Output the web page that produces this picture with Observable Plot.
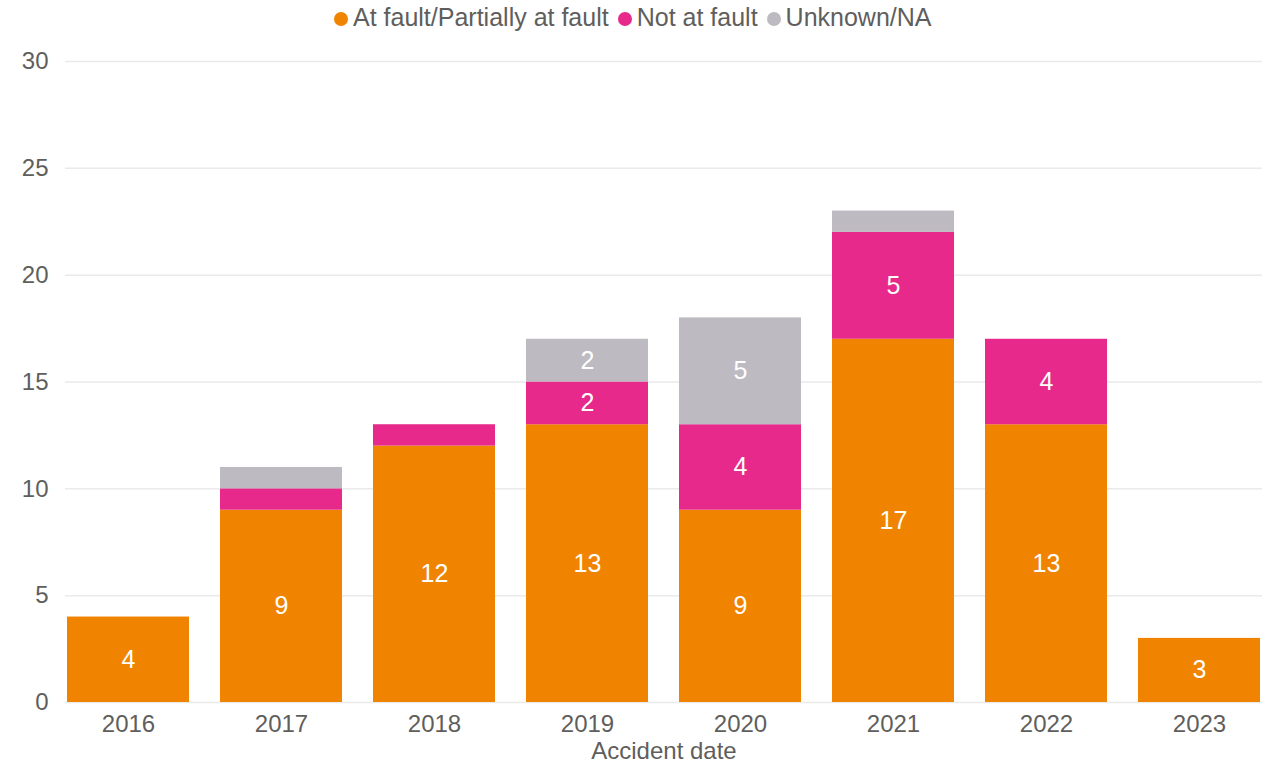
<!DOCTYPE html>
<html>
<head>
<meta charset="utf-8">
<script src="https://cdn.jsdelivr.net/npm/d3@7"></script>
<script src="https://cdn.jsdelivr.net/npm/@observablehq/plot@0.6"></script>
<style>
  body { margin: 0; background: #fff; font-family: "Liberation Sans", Arial, sans-serif; }
  #legend { position: relative; height: 34px; width: 1263px; font-size: 25px; color: #605E5C; }
  #legend .inner { position: absolute; left: 334px; top: 0; height: 34px; display: flex; align-items: center; white-space: nowrap; }
  #legend .item { display: flex; align-items: center; margin-right: 9px; }
  #legend .dot { width: 14px; height: 14px; border-radius: 50%; margin-right: 5px; margin-top: 3px; }
</style>
</head>
<body>
<div id="legend"><div class="inner"></div></div>
<div id="chart"></div>
<script>
const years = ["2016", "2017", "2018", "2019", "2020", "2021", "2022", "2023"];
const atFault = [4, 9, 12, 13, 9, 17, 13, 3];
const notAtFault = [0, 1, 1, 2, 4, 5, 4, 0];
const unknownNA = [0, 1, 0, 2, 5, 1, 0, 0];
const seriesNames = ["At fault/Partially at fault", "Not at fault", "Unknown/NA"];
const seriesColors = ["#F08400", "#E6298A", "#BEBAC1"];
const yTicks = [0, 5, 10, 15, 20, 25, 30];

const seriesValues = [atFault, notAtFault, unknownNA];
const data = years.flatMap((year, i) =>
  seriesNames.map((status, s) => ({ year, status, value: seriesValues[s][i] }))
);

// Legend
const inner = document.querySelector("#legend .inner");
seriesNames.forEach((name, i) => {
  const item = document.createElement("div");
  item.className = "item";
  const dot = document.createElement("span");
  dot.className = "dot";
  dot.style.background = seriesColors[i];
  const label = document.createElement("span");
  label.textContent = name;
  item.appendChild(dot);
  item.appendChild(label);
  inner.appendChild(item);
});

const chart = Plot.plot({
  width: 1263,
  height: 730,
  marginLeft: 65,
  marginRight: 1,
  marginTop: 27,
  marginBottom: 62,
  style: { fontFamily: "'Liberation Sans', Arial, sans-serif", fontSize: "24px", color: "#605E5C", background: "#fff" },
  x: { domain: years, paddingInner: 0.2, paddingOuter: 0, label: null },
  y: { domain: [0, 30], label: null },
  color: { domain: seriesNames, range: seriesColors },
  marks: [
    Plot.gridY(yTicks, { stroke: "#EAEAEA", strokeOpacity: 1, strokeWidth: 1.5 }),
    Plot.barY(data, { x: "year", y: "value", fill: "status" }),
    Plot.text(data, Plot.stackY({
      x: "year", y: "value", z: "status",
      text: d => d.value > 1 ? String(d.value) : "",
      fill: "white", fontSize: 25
    })),
    Plot.axisX({ tickSize: 0, tickPadding: 12, fontSize: 24, label: null }),
    Plot.axisY({ ticks: yTicks, tickSize: 0, tickPadding: 17, fontSize: 24, label: null }),
    Plot.text(["Accident date"], { frameAnchor: "bottom", dy: 56, fontSize: 24, fill: "#605E5C", x: null })
  ]
});
document.getElementById("chart").appendChild(chart);
</script>
</body>
</html>
